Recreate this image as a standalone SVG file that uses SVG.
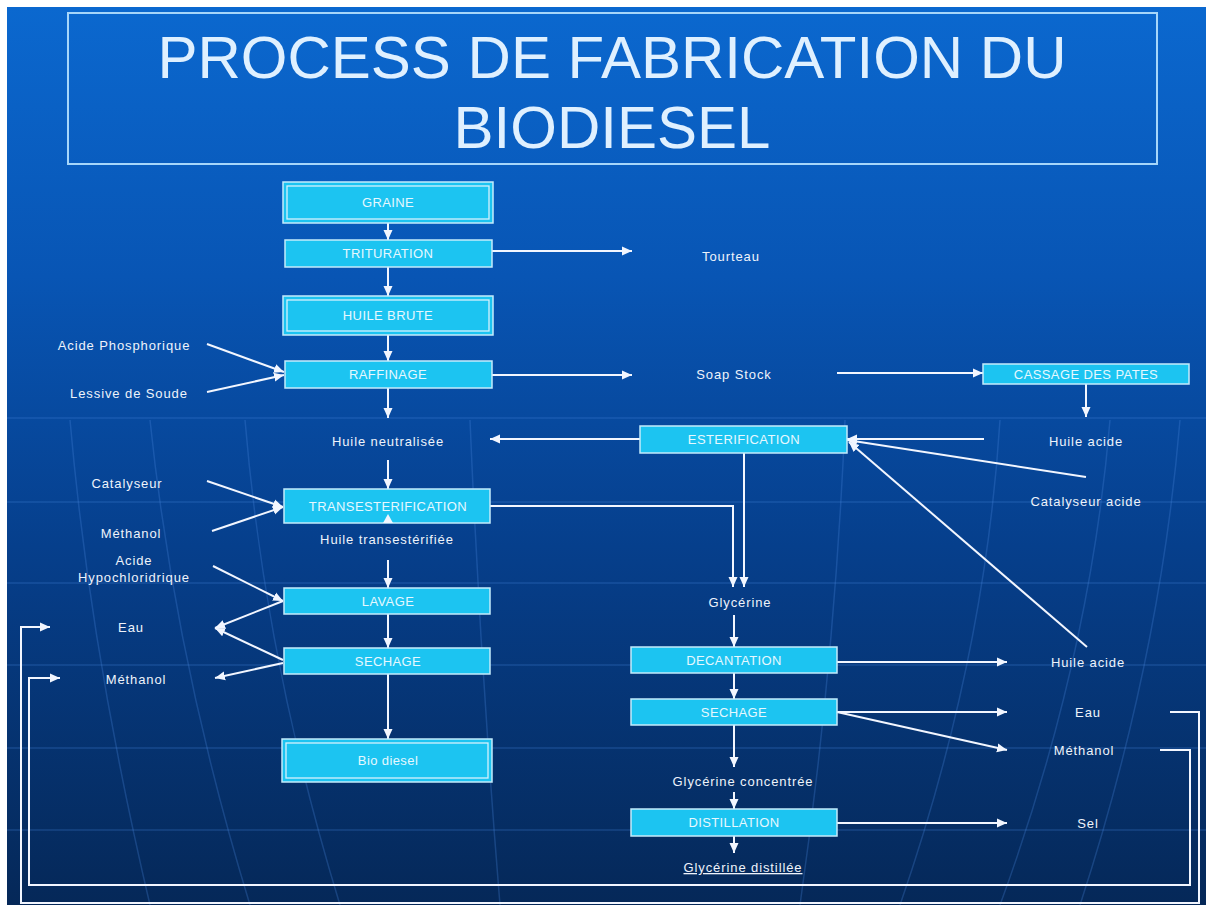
<svg xmlns="http://www.w3.org/2000/svg" width="1214" height="907" viewBox="0 0 1214 907">
<defs>
<linearGradient id="bg" x1="0" y1="0" x2="0" y2="1">
<stop offset="0" stop-color="#0b68cf"/>
<stop offset="0.3" stop-color="#0855b4"/>
<stop offset="0.6" stop-color="#063f8c"/>
<stop offset="1" stop-color="#052858"/>
</linearGradient>
<marker id="ah" markerUnits="userSpaceOnUse" markerWidth="11" markerHeight="10" refX="10" refY="5" orient="auto">
<path d="M0,0.5 L10,5 L0,9.5 z" fill="#f2f6ff"/>
</marker>
<style>
.box{fill:#1cc4f1;stroke:#c4ebfb;stroke-width:1.5}
.inner{fill:none;stroke:#d6f2fd;stroke-width:1.3}
.bt{font-family:"Liberation Sans",Arial,sans-serif;font-size:13px;fill:#e6f8ff;text-anchor:middle;letter-spacing:0.4px}
.lb{font-family:"Liberation Sans",Arial,sans-serif;font-size:13px;fill:#eef3fb;text-anchor:middle;letter-spacing:0.9px}
.title{font-family:"Liberation Sans",Arial,sans-serif;font-size:60px;fill:#dff0ff;text-anchor:middle}
.c{fill:none;stroke:#f2f6ff;stroke-width:2;marker-end:url(#ah)}
.cn{fill:none;stroke:#f2f6ff;stroke-width:2}
.grid{fill:none;stroke:#4a8ae0;stroke-opacity:0.28;stroke-width:1.5}
</style>
</defs>
<rect x="0" y="0" width="1214" height="907" fill="#ffffff"/>
<rect x="7" y="7" width="1199" height="898" fill="url(#bg)"/>
<g id="background-grid">
<path class="grid" d="M7,418 H1206 M7,502 H1206 M7,583 H1206 M7,665 H1206 M7,748 H1206 M7,830 H1206"/>
<path class="grid" d="M70,420 Q90,650 150,905 M150,420 Q175,660 250,905 M245,420 Q265,660 340,905 M470,420 Q480,660 500,905 M845,420 Q835,660 800,905 M1000,420 Q985,660 900,905 M1110,420 Q1090,660 1000,905 M1180,420 Q1160,660 1080,905"/>
</g>
<g id="title">
<rect x="68" y="13" width="1089" height="151" fill="none" stroke="#a6d6fa" stroke-width="2"/>
<text class="title" x="612" y="78">PROCESS DE FABRICATION DU</text>
<text class="title" x="612" y="148">BIODIESEL</text>
</g>
<g id="connectors">
<path class="c" d="M388,223 V240"/>
<path class="c" d="M388,267 V296"/>
<path class="c" d="M388,335 V361"/>
<path class="c" d="M388,388 V418"/>
<path class="c" d="M388,460 V489"/>
<path class="c" d="M388,560 V588"/>
<path class="c" d="M388,614 V648"/>
<path class="c" d="M388,674 V739"/>
<path class="c" d="M492,251 H632"/>
<path class="c" d="M492,375 H632"/>
<path class="c" d="M837,373 H983"/>
<path class="c" d="M1086,384 V417"/>
<path class="c" d="M984,439 H847"/>
<path class="c" d="M1086,477 L847,440"/>
<path class="c" d="M1087,647 L849,442"/>
<path class="c" d="M640,439 H490"/>
<path class="c" d="M744,453 V587"/>
<path class="c" d="M489,506 H733 V587"/>
<path class="c" d="M207,344 L284,372"/>
<path class="c" d="M207,392 L284,375"/>
<path class="c" d="M207,481 L283,507"/>
<path class="c" d="M212,531 L283,507"/>
<path class="c" d="M213,566 L283,601"/>
<path class="c" d="M283,601 L215,628"/>
<path class="c" d="M283,660 L215,628"/>
<path class="c" d="M283,663 L215,678"/>
<path class="c" d="M734,615 V647"/>
<path class="c" d="M734,673 V699"/>
<path class="c" d="M734,725 V767"/>
<path class="c" d="M734,792 V809"/>
<path class="c" d="M734,836 V853"/>
<path class="c" d="M837,662 H1007"/>
<path class="c" d="M837,712 H1007"/>
<path class="c" d="M837,712 L1007,750"/>
<path class="c" d="M837,823 H1007"/>
<path class="c" d="M1170,712 H1199 V903 H21 V627 H50"/>
<path class="c" d="M1160,750 H1190 V885 H29 V678 H60"/>
</g>
<g id="n-graine">
<rect class="box" x="283" y="182" width="210" height="41"/>
<rect class="inner" x="287" y="186" width="202" height="33"/>
<text class="bt" x="388" y="207">GRAINE</text>
</g>
<g id="n-trituration">
<rect class="box" x="285" y="240" width="207" height="27"/>
<text class="bt" x="388" y="258">TRITURATION</text>
</g>
<g id="n-huile-brute">
<rect class="box" x="283" y="296" width="210" height="39"/>
<rect class="inner" x="287" y="300" width="202" height="31"/>
<text class="bt" x="388" y="320">HUILE BRUTE</text>
</g>
<g id="n-raffinage">
<rect class="box" x="285" y="361" width="207" height="27"/>
<text class="bt" x="388" y="379">RAFFINAGE</text>
</g>
<g id="n-transesterification">
<rect class="box" x="284" y="489" width="206" height="34"/>
<text class="bt" x="388" y="511">TRANSESTERIFICATION</text>
<path d="M383,523 L388,514 L393,523 z" fill="#f2f6ff"/>
</g>
<g id="n-lavage">
<rect class="box" x="284" y="588" width="206" height="26"/>
<text class="bt" x="388" y="606">LAVAGE</text>
</g>
<g id="n-sechage1">
<rect class="box" x="284" y="648" width="206" height="26"/>
<text class="bt" x="388" y="666">SECHAGE</text>
</g>
<g id="n-biodiesel">
<rect class="box" x="282" y="739" width="210" height="43"/>
<rect class="inner" x="286" y="743" width="202" height="35"/>
<text class="bt" x="388" y="765">Bio diesel</text>
</g>
<g id="n-esterification">
<rect class="box" x="640" y="426" width="207" height="27"/>
<text class="bt" x="744" y="444">ESTERIFICATION</text>
</g>
<g id="n-cassage">
<rect class="box" x="983" y="364" width="206" height="20"/>
<text class="bt" x="1086" y="379">CASSAGE DES PATES</text>
</g>
<g id="n-decantation">
<rect class="box" x="631" y="647" width="206" height="26"/>
<text class="bt" x="734" y="665">DECANTATION</text>
</g>
<g id="n-sechage2">
<rect class="box" x="631" y="699" width="206" height="26"/>
<text class="bt" x="734" y="717">SECHAGE</text>
</g>
<g id="n-distillation">
<rect class="box" x="631" y="809" width="206" height="27"/>
<text class="bt" x="734" y="827">DISTILLATION</text>
</g>
<g id="labels">
<text class="lb" x="731" y="261">Tourteau</text>
<text class="lb" x="734" y="379">Soap Stock</text>
<text class="lb" x="1086" y="446">Huile acide</text>
<text class="lb" x="1086" y="506">Catalyseur acide</text>
<text class="lb" x="388" y="446">Huile neutralisée</text>
<text class="lb" x="124" y="350">Acide Phosphorique</text>
<text class="lb" x="129" y="398">Lessive de Soude</text>
<text class="lb" x="127" y="488">Catalyseur</text>
<text class="lb" x="131" y="538">Méthanol</text>
<text class="lb" x="387" y="544">Huile transestérifiée</text>
<text class="lb" x="134" y="565">Acide</text>
<text class="lb" x="134" y="582">Hypochloridrique</text>
<text class="lb" x="131" y="632">Eau</text>
<text class="lb" x="136" y="684">Méthanol</text>
<text class="lb" x="740" y="607">Glycérine</text>
<text class="lb" x="1088" y="667">Huile acide</text>
<text class="lb" x="1088" y="717">Eau</text>
<text class="lb" x="1084" y="755">Méthanol</text>
<text class="lb" x="1088" y="828">Sel</text>
<text class="lb" x="743" y="786">Glycérine concentrée</text>
<text class="lb" x="743" y="872" text-decoration="underline">Glycérine distillée</text>
</g>
</svg>
